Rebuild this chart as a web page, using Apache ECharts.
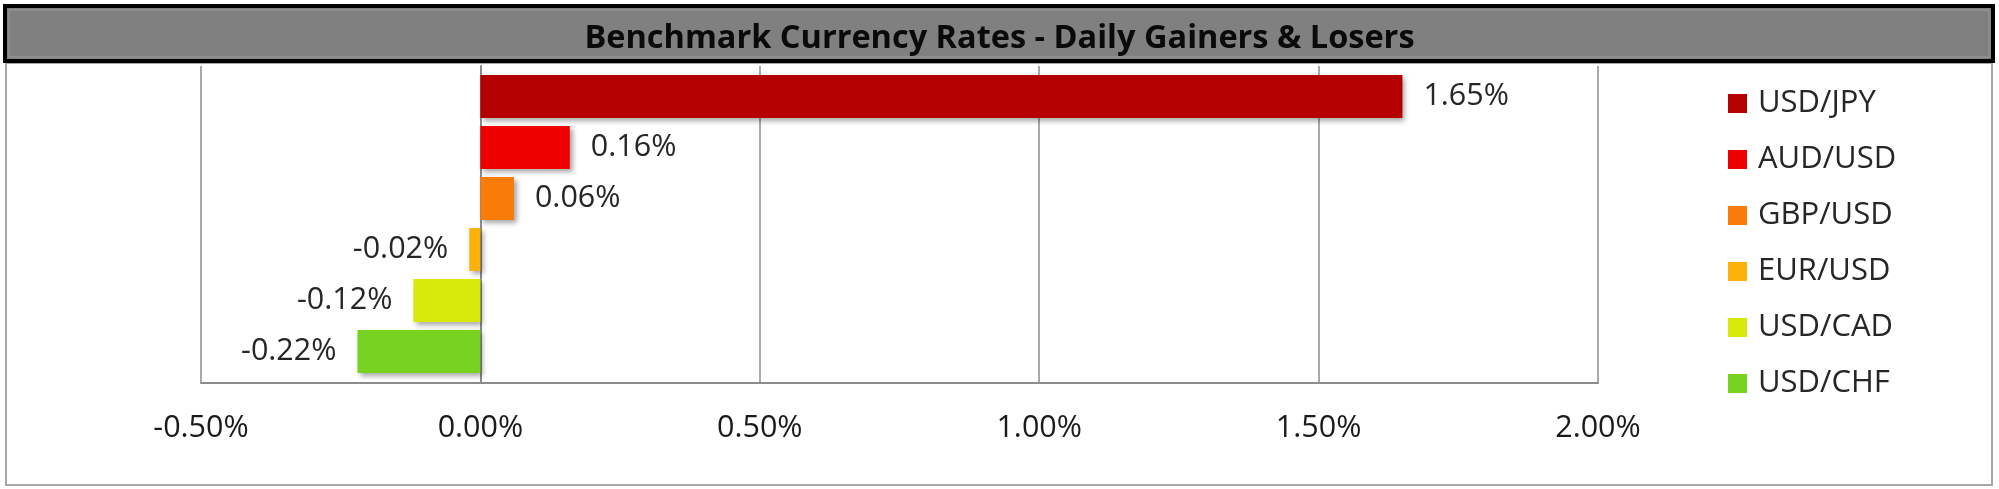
<!DOCTYPE html>
<html>
<head>
<meta charset="utf-8">
<script src="https://cdn.jsdelivr.net/npm/echarts@6/dist/echarts.min.js"></script>
<style>
html,body{margin:0;padding:0;background:#fff;}
#chart{width:1999px;height:489px;}
</style>
</head>
<body>
<div id="chart"></div>
<script>
var titleText = 'Benchmark Currency Rates - Daily Gainers & Losers';
var categories = ['USD/JPY', 'AUD/USD', 'GBP/USD', 'EUR/USD', 'USD/CAD', 'USD/CHF'];
var values = [1.65, 0.16, 0.06, -0.02, -0.12, -0.22];
var colors = ['#b40000', '#ee0000', '#f97b0a', '#fbb00a', '#d7ea0c', '#76d420'];
var tickMin = -0.5, tickMax = 2.0, tickStep = 0.5;

var FONT = '"Open Sans", "Noto Sans", sans-serif';
var chart = echarts.init(document.getElementById('chart'), null, {renderer: 'canvas'});

var series = categories.map(function (name, i) {
  var data = categories.map(function (c, j) { return j === i ? values[i] : null; });
  return {
    name: name,
    type: 'bar',
    xAxisIndex: 1,
    yAxisIndex: 1,
    stack: 'all',
    barCategoryGap: '16%',
    data: data,
    itemStyle: {
      color: colors[i],
      shadowColor: 'rgba(0,0,0,0.35)',
      shadowBlur: 5,
      shadowOffsetX: 3,
      shadowOffsetY: 3
    },
    label: {
      show: true,
      position: values[i] >= 0 ? 'right' : 'left',
      distance: 21,
      fontFamily: FONT,
      fontSize: 30.5,
      color: '#262626',
      formatter: function (p) { return p.value.toFixed(2) + '%'; }
    },
    z: 3
  };
});

var option = {
  backgroundColor: '#ffffff',
  animation: false,
  graphic: [
    {
      type: 'rect', z: 0,
      shape: {x: 6, y: 63, width: 1986, height: 422},
      style: {fill: 'none', stroke: '#a6a6a6', lineWidth: 2}
    },
    {
      type: 'rect', z: 1,
      shape: {x: 5, y: 6, width: 1988, height: 55},
      style: {fill: '#808080', stroke: '#000000', lineWidth: 4}
    },
    {
      type: 'rect', z: 1,
      shape: {x: 9, y: 10, width: 1980, height: 47},
      style: {fill: 'none', stroke: '#9a9a9a', lineWidth: 1}
    }
  ],
  title: {
    text: titleText,
    left: 'center',
    top: 17,
    textStyle: {
      fontFamily: FONT,
      fontWeight: 'bold',
      fontSize: 32.5,
      color: '#0a0a0a'
    },
    z: 5
  },
  legend: {
    orient: 'vertical',
    left: 1723,
    top: 83,
    itemWidth: 19,
    itemHeight: 19,
    itemGap: 25,
    icon: 'rect',
    selectedMode: false,
    data: categories,
    textStyle: {
      fontFamily: FONT,
      fontSize: 31,
      lineHeight: 30,
      color: '#262626',
      padding: [0, 0, 0, 6]
    }
  },
  grid: [
    {left: 201, right: 401, top: 66, bottom: 106, containLabel: false},
    {left: 201, right: 401, top: 71, bottom: 112, containLabel: false}
  ],
  xAxis: [
    {
      type: 'value', gridIndex: 0,
      min: tickMin, max: tickMax, interval: tickStep,
      axisLine: {show: true, lineStyle: {color: '#8c8c8c', width: 2}},
      axisTick: {show: false},
      splitLine: {show: true, lineStyle: {color: '#8c8c8c', width: 1.5}},
      axisLabel: {
        margin: 30,
        fontFamily: FONT,
        fontSize: 30.5,
        color: '#1a1a1a',
        formatter: function (v) { return v.toFixed(2) + '%'; }
      }
    },
    {
      type: 'value', gridIndex: 1,
      min: tickMin, max: tickMax, interval: tickStep,
      show: false,
      splitLine: {show: false}
    }
  ],
  yAxis: [
    {
      type: 'category', gridIndex: 0, data: categories, inverse: true,
      axisLine: {show: true, lineStyle: {color: '#8c8c8c', width: 2}},
      axisTick: {show: false}, axisLabel: {show: false}
    },
    {
      type: 'category', gridIndex: 1, data: categories, inverse: true,
      show: false
    }
  ],
  series: series
};
chart.setOption(option);
</script>
</body>
</html>
